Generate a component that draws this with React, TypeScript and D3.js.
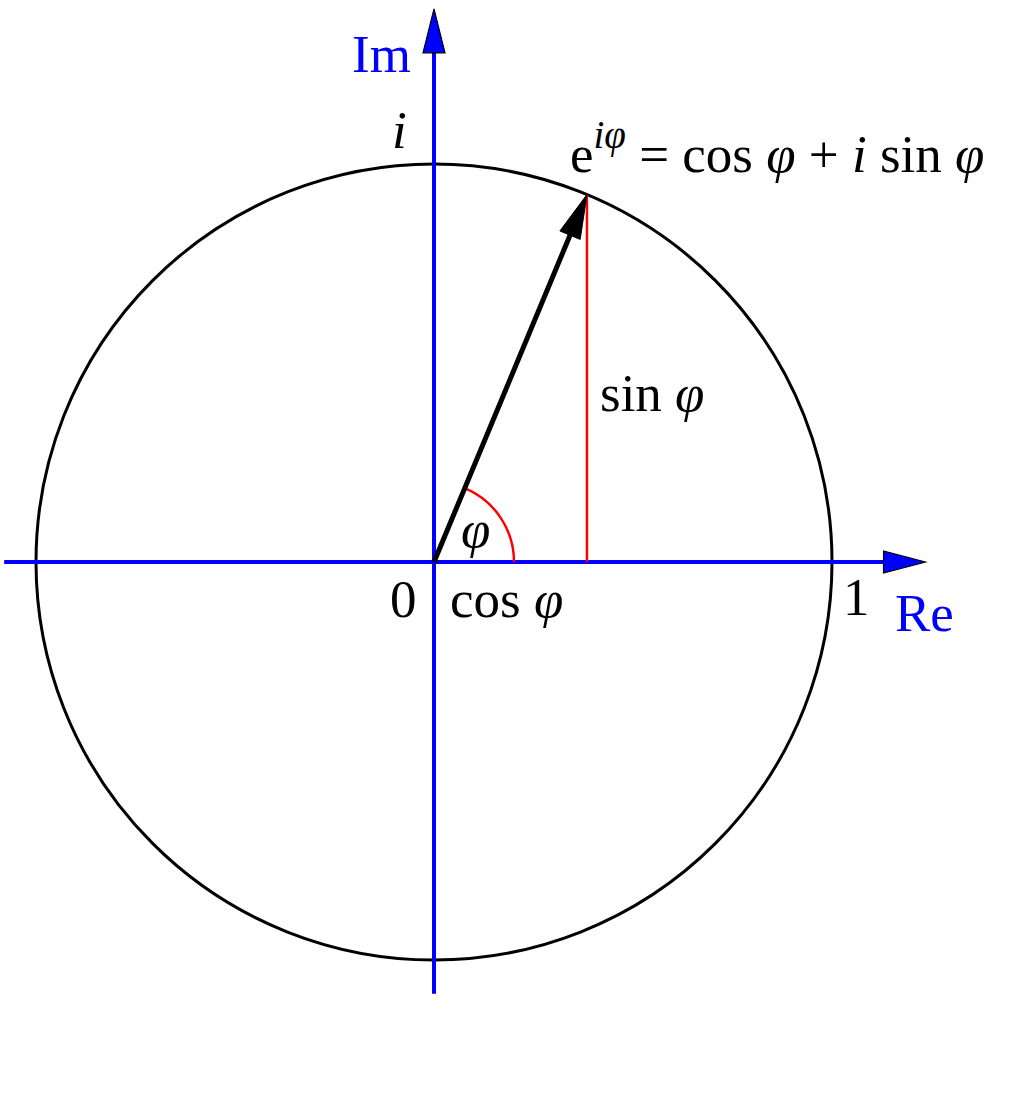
import React from "react";
import * as d3 from "d3";

const phiDeg = [67.4];
const radiusValues = [1];
const reAxisExtent = [-1.08, 1.235];
const imAxisExtent = [-1.085, 1.39];
const axisNames = ["Re", "Im"];
const pointLabels = ["0", "1", "i"];
const partLabels = ["cos φ", "sin φ", "φ"];

const W = 1024;
const H = 1097;

export default function App() {
  const x = d3.scaleLinear().domain([-1, 1]).range([36, 832]);
  const y = d3.scaleLinear().domain([-1, 1]).range([960, 164]);
  const phi = (phiDeg[0] * Math.PI) / 180;
  const r = radiusValues[0];
  const px = x(r * Math.cos(phi));
  const py = y(r * Math.sin(phi));
  const ox = x(0);
  const oy = y(0);
  const R = x(r) - x(0);
  const arcR = 80;
  const arcGen = d3
    .arc()
    .innerRadius(arcR)
    .outerRadius(arcR)
    .startAngle(Math.PI / 2 - phi)
    .endAngle(Math.PI / 2);
  const arcPath = arcGen({} as any) as string;

  const reTip = x(reAxisExtent[1]);
  const imTip = y(imAxisExtent[1]);
  const headLen = 42;
  const headHalf = 11;
  const reHead = `M${reTip},${oy} L${reTip - headLen},${oy - headHalf} L${reTip - headLen},${oy + headHalf} Z`;
  const imHead = `M${ox},${imTip} L${ox - headHalf},${imTip + headLen + 2} L${ox + headHalf},${imTip + headLen + 2} Z`;

  const dx = px - ox;
  const dy = py - oy;
  const len = Math.hypot(dx, dy);
  const ux = dx / len;
  const uy = dy / len;
  const vl = 44;
  const vw = 11;
  const bx = px - ux * vl;
  const by = py - uy * vl;
  const vecHead = `M${px},${py} L${bx - uy * vw},${by + ux * vw} L${bx + uy * vw},${by - ux * vw} Z`;

  const font = "'Liberation Serif', 'Times New Roman', serif";
  const fs = 53;

  return (
    <svg width={W} height={H} style={{ position: "absolute", left: 0, top: 0 }} fontFamily={font}>
      <rect x={0} y={0} width={W} height={H} fill="#fff" />
      <circle cx={ox} cy={oy} r={R} fill="none" stroke="#000" strokeWidth={3} />
      <line x1={x(reAxisExtent[0])} y1={oy} x2={reTip - headLen + 2} y2={oy} stroke="#0000ff" strokeWidth={4} />
      <line x1={ox} y1={y(imAxisExtent[0])} x2={ox} y2={imTip + headLen} stroke="#0000ff" strokeWidth={4} />
      <path d={reHead} fill="#0000ff" stroke="#000" strokeWidth={1.2} />
      <path d={imHead} fill="#0000ff" stroke="#000" strokeWidth={1.2} />
      <line x1={px} y1={py} x2={px} y2={oy} stroke="#ff0000" strokeWidth={2.5} />
      <path d={arcPath} transform={`translate(${ox},${oy})`} fill="none" stroke="#ff0000" strokeWidth={2.5} />
      <line x1={ox} y1={oy} x2={bx + ux * 4} y2={by + uy * 4} stroke="#000" strokeWidth={5} />
      <path d={vecHead} fill="#000" stroke="#000" strokeWidth={1} />
      <text x={352} y={72} fontSize={fs} fill="#0000ff">{axisNames[1]}</text>
      <text x={895} y={631} fontSize={fs} fill="#0000ff">{axisNames[0]}</text>
      <text x={390} y={617} fontSize={fs}>{pointLabels[0]}</text>
      <text x={843} y={615} fontSize={fs}>{pointLabels[1]}</text>
      <text x={392} y={148} fontSize={fs} fontStyle="italic">{pointLabels[2]}</text>
      <text x={450} y={617} fontSize={fs}>
        cos <tspan fontStyle="italic">φ</tspan>
      </text>
      <text x={600} y={411} fontSize={fs}>
        sin <tspan fontStyle="italic">φ</tspan>
      </text>
      <text x={461} y={547} fontSize={fs} fontStyle="italic">{partLabels[2]}</text>
      <text x={570} y={172} fontSize={fs}>
        e
        <tspan fontSize={39} dy={-24} fontStyle="italic">iφ</tspan>
        <tspan dy={24}> = cos </tspan>
        <tspan fontStyle="italic">φ</tspan>
        <tspan> + </tspan>
        <tspan fontStyle="italic">i</tspan>
        <tspan> sin </tspan>
        <tspan fontStyle="italic">φ</tspan>
      </text>
    </svg>
  );
}
